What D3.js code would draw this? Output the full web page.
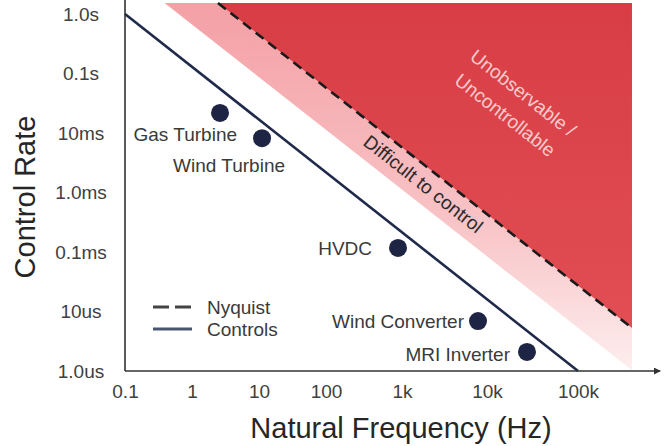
<!DOCTYPE html>
<html>
<head>
<meta charset="utf-8">
<script src="https://cdn.jsdelivr.net/npm/d3@7.9.0/dist/d3.min.js"></script>
<style>
  html, body { margin: 0; padding: 0; background: #fff; }
  svg { display: block; font-family: "Liberation Sans", Arial, sans-serif; }
</style>
</head>
<body>
<svg id="chart" width="664" height="446"></svg>
<script>
// Axis ticks
const xTicks = [0.1, 1, 10, 100, 1e3, 1e4, 1e5];
const xTickLabels = ['0.1', '1', '10', '100', '1k', '10k', '100k'];
const yTicks = [1e-6, 1e-5, 1e-4, 1e-3, 1e-2, 1e-1, 1];
const yTickLabels = ['1.0us', '10us', '0.1ms', '1.0ms', '10ms', '0.1s', '1.0s'];

// Systems (Hz, seconds)
const systemNames = ['Gas Turbine', 'Wind Turbine', 'HVDC', 'Wind Converter', 'MRI Inverter'];
const systemFreq = [2.62, 11.1, 886, 7840, 27500];
const systemRate = [0.0217, 0.0082, 1.17e-4, 6.9e-6, 2.09e-6];

// Boundary lines (Hz, seconds)
const controlsLine = [[0.1, 1], [1e5, 1e-6]];
const nyquistLine = [[2.44, 1.53], [3.92e5, 5.28e-6]];
const difficultEdge = [[0.39, 1.53], [3.92e5, 1.03e-6]];
const xMax = 8e5;
const yMax = 1.72;

const legendLabels = ['Nyquist', 'Controls'];

const svg = d3.select('#chart');

// hand-placed decade labels in the source, so the log scale is piecewise
const x = d3.scaleLog()
  .domain(xTicks)
  .range([125, 192, 259, 326, 402, 487, 578]);

const y = d3.scaleLog()
  .domain([1e-6, 1])
  .range([371, 14]);

const defs = svg.append('defs');

const pinkGrad = defs.append('linearGradient')
  .attr('id', 'pink')
  .attr('gradientUnits', 'userSpaceOnUse')
  .attr('x1', 0).attr('y1', y(1.53))
  .attr('x2', 0).attr('y2', y(1e-6));
pinkGrad.append('stop').attr('offset', 0).attr('stop-color', '#f4a0a5');
pinkGrad.append('stop').attr('offset', 0.6).attr('stop-color', '#f8c4c7');
pinkGrad.append('stop').attr('offset', 1).attr('stop-color', '#fdeeee');

const redGrad = defs.append('linearGradient')
  .attr('id', 'red')
  .attr('gradientUnits', 'userSpaceOnUse')
  .attr('x1', 0).attr('y1', y(1.53))
  .attr('x2', 0).attr('y2', y(5.28e-6));
redGrad.append('stop').attr('offset', 0).attr('stop-color', '#d83d45');
redGrad.append('stop').attr('offset', 1).attr('stop-color', '#e14e53');

defs.append('marker')
  .attr('id', 'arrow')
  .attr('viewBox', '0 0 10 10')
  .attr('refX', 9).attr('refY', 5)
  .attr('markerWidth', 7).attr('markerHeight', 7)
  .attr('markerUnits', 'userSpaceOnUse')
  .attr('orient', 'auto')
  .append('path')
  .attr('d', 'M0,0L10,5L0,10Z')
  .attr('fill', '#333');

const pt = d => [x(d[0]), y(d[1])];
const area = d3.line().x(d => x(d[0])).y(d => y(d[1]));

// Regions
const pinkPoly = [difficultEdge[0], nyquistLine[0], nyquistLine[1], difficultEdge[1]];
const redPoly = [nyquistLine[0], [nyquistLine[1][0], nyquistLine[0][1]], nyquistLine[1]];

svg.append('path')
  .attr('d', area(pinkPoly) + 'Z')
  .attr('fill', 'url(#pink)');

svg.append('path')
  .attr('d', area(redPoly) + 'Z')
  .attr('fill', 'url(#red)');

svg.append('path')
  .attr('d', area(nyquistLine))
  .attr('fill', 'none')
  .attr('stroke', '#1a1a1a')
  .attr('stroke-width', 2.6)
  .attr('stroke-dasharray', '10,6');

svg.append('path')
  .attr('d', area(controlsLine))
  .attr('fill', 'none')
  .attr('stroke', '#1f2a4a')
  .attr('stroke-width', 2.6);

// Axes
const xAxis = d3.axisBottom(x)
  .tickValues(xTicks)
  .tickFormat((d, i) => xTickLabels[i])
  .tickSize(0)
  .tickPadding(14);

const gx = svg.append('g')
  .attr('transform', `translate(0,${y(1e-6)})`)
  .call(xAxis);
gx.select('.domain').remove();

const yAxis = d3.axisLeft(y)
  .tickValues(yTicks)
  .tickFormat((d, i) => yTickLabels[i])
  .tickSize(0)
  .tickPadding(44);

const gy = svg.append('g')
  .attr('transform', `translate(${x(0.1)},0)`)
  .call(yAxis);
gy.select('.domain').remove();

svg.selectAll('.tick text')
  .attr('font-size', 19)
  .attr('font-family', '"Liberation Sans", Arial, sans-serif')
  .attr('fill', '#404040');
gy.selectAll('.tick text').attr('text-anchor', 'middle');

svg.append('line')
  .attr('x1', x(0.1)).attr('y1', y(1e-6))
  .attr('x2', x(0.1)).attr('y2', y(yMax))
  .attr('stroke', '#333').attr('stroke-width', 1.6);

svg.append('line')
  .attr('x1', x(0.1)).attr('y1', y(1e-6))
  .attr('x2', x(xMax)).attr('y2', y(1e-6))
  .attr('stroke', '#333').attr('stroke-width', 1.6)
  .attr('marker-end', 'url(#arrow)');

// Axis titles
svg.append('text')
  .attr('x', 401).attr('y', 438)
  .attr('text-anchor', 'middle')
  .attr('font-size', 29)
  .attr('fill', '#262626')
  .text('Natural Frequency (Hz)');

svg.append('text')
  .attr('transform', 'translate(35,197) rotate(-90)')
  .attr('text-anchor', 'middle')
  .attr('font-size', 29)
  .attr('fill', '#262626')
  .text('Control Rate');

// Systems
const labelOffsets = [[17, 28], [23, 34], [-26, 7], [-14, 7], [-17, 9]];

const systems = systemNames.map((name, i) => ({
  name, f: systemFreq[i], t: systemRate[i], off: labelOffsets[i]
}));

svg.append('g')
  .selectAll('circle')
  .data(systems)
  .join('circle')
  .attr('cx', d => x(d.f))
  .attr('cy', d => y(d.t))
  .attr('r', 9)
  .attr('fill', '#1e2444');

svg.append('g')
  .selectAll('text')
  .data(systems)
  .join('text')
  .attr('x', d => x(d.f) + d.off[0])
  .attr('y', d => y(d.t) + d.off[1])
  .attr('text-anchor', 'end')
  .attr('font-size', 19)
  .attr('fill', '#3a3a3a')
  .text(d => d.name);

// Region labels, rotated along the boundary
const [n0, n1] = [pt(nyquistLine[0]), pt(nyquistLine[1])];
const angle = Math.atan2(n1[1] - n0[1], n1[0] - n0[0]) * 180 / Math.PI;

const regionLabels = [
  { text: 'Difficult to control', at: [1778, 1.39e-3], color: '#2a2a2a' },
  { text: 'Unobservable /', at: [2.49e4, 0.047], color: '#f7cacc' },
  { text: 'Uncontrollable', at: [1.58e4, 0.020], color: '#f7cacc' },
];

svg.append('g')
  .selectAll('text')
  .data(regionLabels)
  .join('text')
  .attr('transform', d => `translate(${x(d.at[0])},${y(d.at[1])}) rotate(${angle})`)
  .attr('text-anchor', 'middle')
  .attr('dominant-baseline', 'central')
  .attr('font-size', 19)
  .attr('fill', d => d.color)
  .text(d => d.text);

// Legend
const legend = svg.append('g').attr('transform', 'translate(153,307)');
const legendItems = legend.selectAll('g')
  .data(legendLabels)
  .join('g')
  .attr('transform', (d, i) => `translate(0,${i * 22})`);

legendItems.append('line')
  .attr('x1', 0).attr('x2', 39)
  .attr('stroke', (d, i) => i === 0 ? '#444' : '#4a5570')
  .attr('stroke-width', 3)
  .attr('stroke-dasharray', (d, i) => i === 0 ? '16,6' : null);

legendItems.append('text')
  .attr('x', 54)
  .attr('dy', '0.35em')
  .attr('font-size', 19)
  .attr('fill', '#3a3a3a')
  .text(d => d);
</script>
</body>
</html>
